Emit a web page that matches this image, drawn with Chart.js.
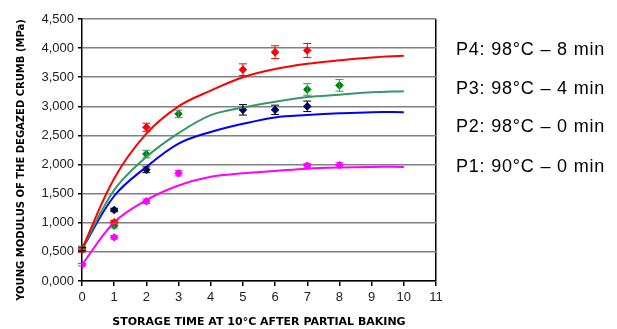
<!DOCTYPE html>
<html>
<head>
<meta charset="utf-8">
<script src="https://cdn.jsdelivr.net/npm/chart.js@4"></script>
<style>
  html, body { margin: 0; padding: 0; background: #fff; }
  #wrap { width: 617px; height: 329px; }
</style>
</head>
<body>
<div id="wrap"><canvas id="modulusChart"></canvas></div>
<script>
// measured points (days at 10°C) with error bars
const p4Days = [0, 1, 2, 5, 6, 7];
const p4Vals = [0.53, 1.01, 2.64, 3.63, 3.93, 3.96];
const p4Err  = [0.03, 0.03, 0.07, 0.10, 0.11, 0.12];

const p3Days = [0, 1, 2, 3, 7, 8];
const p3Vals = [0.57, 0.95, 2.18, 2.87, 3.29, 3.36];
const p3Err  = [0.03, 0.04, 0.065, 0.065, 0.10, 0.10];

const p2Days = [0, 1, 2, 5, 6, 7];
const p2Vals = [0.55, 1.22, 1.91, 2.94, 2.94, 3.00];
const p2Err  = [0.03, 0.03, 0.05, 0.09, 0.08, 0.09];

const p1Days = [0, 1, 2, 3, 7, 8];
const p1Vals = [0.28, 0.75, 1.37, 1.85, 1.98, 1.99];
const p1Err  = [0.02, 0.03, 0.04, 0.045, 0.04, 0.04];

// fitted curves
const fitDays = [0, 1, 2, 3, 4, 5, 6, 7, 8, 9, 10];
const p4Fit = [0.55, 1.76, 2.53, 3.00, 3.27, 3.50, 3.64, 3.73, 3.79, 3.84, 3.87];
const p3Fit = [0.55, 1.56, 2.13, 2.54, 2.85, 2.98, 3.08, 3.16, 3.20, 3.24, 3.26];
const p2Fit = [0.55, 1.46, 1.96, 2.36, 2.56, 2.70, 2.81, 2.85, 2.88, 2.90, 2.90];
const p1Fit = [0.28, 1.01, 1.39, 1.64, 1.79, 1.85, 1.89, 1.93, 1.95, 1.96, 1.96];

const legendLabels = ['P4: 98°C – 8 min', 'P3: 98°C – 4 min', 'P2: 98°C – 0 min', 'P1: 90°C – 0 min'];
const yTitle = 'YOUNG MODULUS OF THE DEGAZED CRUMB (MPa)';

const pts = (xs, ys) => xs.map((x, i) => ({ x: x, y: ys[i] }));

function fitSet(data, color) {
    return {
        type: 'line',
        data: pts(fitDays, data),
        borderColor: color,
        borderWidth: 2,
        pointRadius: 0,
        tension: 0.35,
        fill: false
    };
}

function markerSet(xs, ys, errs, color, barColor) {
    return {
        type: 'scatter',
        data: pts(xs, ys),
        errors: errs,
        barColor: barColor,
        backgroundColor: color,
        borderColor: color,
        pointStyle: 'rectRot',
        pointRadius: 3.8,
        showLine: false
    };
}

const errorBars = {
    id: 'errorBars',
    afterDatasetsDraw(chart) {
        const ctx = chart.ctx;
        const yScale = chart.scales.y;
        chart.data.datasets.forEach((ds, di) => {
            if (!ds.errors) return;
            const meta = chart.getDatasetMeta(di);
            ctx.save();
            ctx.strokeStyle = ds.barColor;
            ctx.lineWidth = 1;
            meta.data.forEach((el, i) => {
                const v = ds.data[i].y;
                const top = yScale.getPixelForValue(v + ds.errors[i]);
                const bot = yScale.getPixelForValue(v - ds.errors[i]);
                ctx.beginPath();
                ctx.moveTo(el.x, top); ctx.lineTo(el.x, bot);
                ctx.moveTo(el.x - 4, top); ctx.lineTo(el.x + 4, top);
                ctx.moveTo(el.x - 4, bot); ctx.lineTo(el.x + 4, bot);
                ctx.stroke();
            });
            ctx.restore();
        });
    }
};

const sideText = {
    id: 'sideText',
    afterDraw(chart) {
        const ctx = chart.ctx;
        const ys = [50, 89, 127, 167];
        ctx.save();
        ctx.fillStyle = '#000';
        ctx.font = '18px "Liberation Sans", Arial, sans-serif';
        ctx.letterSpacing = '0.8px';
        ctx.textBaseline = 'middle';
        legendLabels.forEach((t, i) => ctx.fillText(t, 456, ys[i]));
        ctx.restore();

        // y axis title, placed as in the original figure
        ctx.save();
        ctx.translate(21, 160);
        ctx.rotate(-Math.PI / 2);
        ctx.fillStyle = '#000';
        ctx.font = 'bold 10px "DejaVu Sans", sans-serif';
        ctx.textAlign = 'center';
        ctx.textBaseline = 'middle';
        ctx.fillText(yTitle, 0, 0);
        ctx.restore();
    }
};

const tickFont = { family: '"Liberation Sans", Arial, sans-serif', size: 13 };
const titleFont = { family: '"DejaVu Sans", sans-serif', size: 11, weight: 'bold' };

new Chart(document.getElementById('modulusChart'), {
    data: {
        datasets: [
            fitSet(p4Fit, '#ff0000'),
            fitSet(p3Fit, '#339966'),
            fitSet(p2Fit, '#0000ff'),
            fitSet(p1Fit, '#ff00ff'),
            markerSet(p4Days, p4Vals, p4Err, '#ff0000', '#ff0000'),
            markerSet(p3Days, p3Vals, p3Err, '#008000', '#339966'),
            markerSet(p2Days, p2Vals, p2Err, '#000080', '#000000'),
            markerSet(p1Days, p1Vals, p1Err, '#ff00ff', '#ff00ff')
        ]
    },
    options: {
        responsive: true,
        maintainAspectRatio: false,
        animation: false,
        layout: { padding: { left: 0, top: 19, right: 181, bottom: 0 } },
        plugins: { legend: { display: false }, tooltip: { enabled: false } },
        scales: {
            x: {
                type: 'linear',
                min: 0, max: 11,
                ticks: { stepSize: 1, color: '#222', font: tickFont, padding: 4 },
                grid: {
                    color: c => c.tick && c.tick.value === 11 ? '#000' : 'rgba(0,0,0,0)',
                    tickColor: '#000',
                    tickLength: 5,
                    lineWidth: 1.5
                },
                border: { color: '#000', width: 1.5 },
                title: {
                    display: true,
                    text: 'STORAGE TIME AT 10°C AFTER PARTIAL BAKING',
                    font: titleFont, color: '#000', padding: { top: 5, bottom: 0 }
                },
                afterFit: s => { s.height = 48; }
            },
            y: {
                min: 0, max: 4.5,
                ticks: {
                    stepSize: 0.5, color: '#222', font: tickFont, padding: 4,
                    callback: v => v.toFixed(3).replace('.', ',')
                },
                grid: { color: '#808080', lineWidth: 1.5, tickColor: '#000', tickLength: 4 },
                border: { color: '#000', width: 1.5 },
                afterFit: s => { s.width = 82; }
            }
        }
    },
    plugins: [errorBars, sideText]
});
</script>
</body>
</html>
